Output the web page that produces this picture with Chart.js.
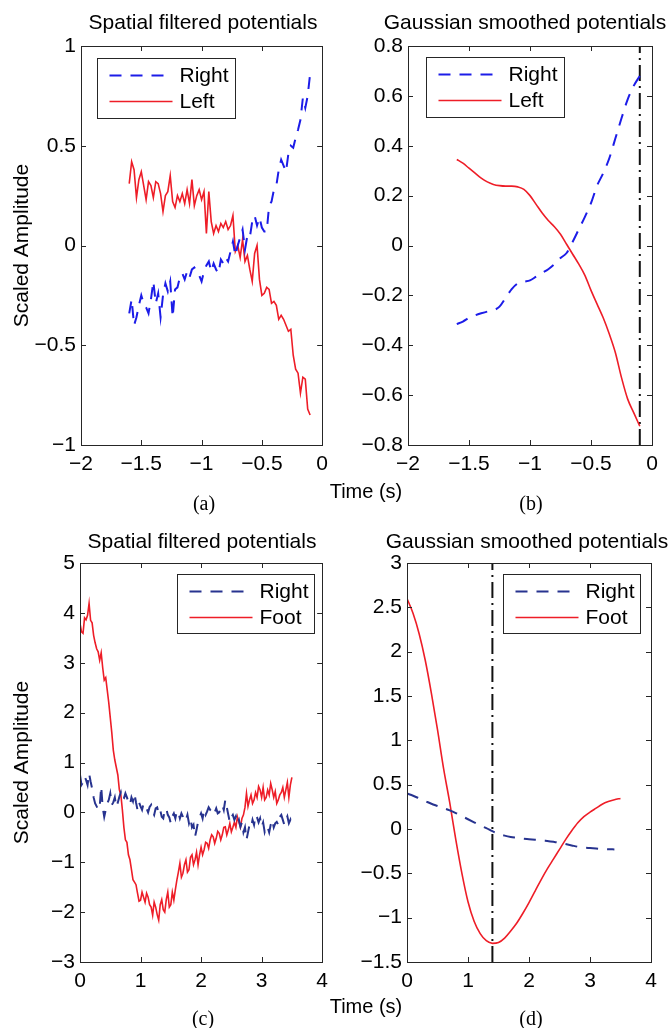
<!DOCTYPE html>
<html><head><meta charset="utf-8">
<script src="https://cdn.jsdelivr.net/npm/chart.js@4.4.1/dist/chart.umd.min.js"></script>
<style>
html,body{margin:0;padding:0;background:#fff;}
#page{position:relative;width:669px;height:1028px;overflow:hidden;font-family:"Liberation Sans",Arial,sans-serif;color:#000;}
canvas{position:absolute;}
.t{position:absolute;white-space:nowrap;text-align:center;line-height:24px;}
.title{font-size:21px;}
.xl{font-size:20px;}
.cap{font-family:"Liberation Serif","Times New Roman",serif;font-size:20px;}
</style></head><body>
<div id="page">
<canvas id="cA" width="335" height="480" style="left:0;top:0"></canvas>
<canvas id="cB" width="334" height="480" style="left:335px;top:0"></canvas>
<canvas id="cC" width="335" height="480" style="left:0;top:517px"></canvas>
<canvas id="cD" width="334" height="480" style="left:335px;top:517px"></canvas>
<div class="t title" style="left:53px;top:10px;width:300px">Spatial filtered potentials</div>
<div class="t title" style="left:375px;top:10px;width:300px">Gaussian smoothed potentials</div>
<div class="t title" style="left:52px;top:529px;width:300px">Spatial filtered potentials</div>
<div class="t title" style="left:377px;top:529px;width:300px">Gaussian smoothed potentials</div>
<div class="t xl" style="left:266px;top:479px;width:200px">Time (s)</div>
<div class="t xl" style="left:266px;top:994px;width:200px">Time (s)</div>
<div class="t cap" style="left:154px;top:491px;width:100px">(a)</div>
<div class="t cap" style="left:481px;top:491px;width:100px">(b)</div>
<div class="t cap" style="left:153px;top:1006px;width:100px">(c)</div>
<div class="t cap" style="left:481px;top:1006px;width:100px">(d)</div>
</div>
<script>
// ---------- data ----------
const timeA = [-1.6,-1.58,-1.56,-1.54,-1.52,-1.5,-1.48,-1.46,-1.44,-1.42,-1.4,-1.38,-1.36,-1.34,-1.32,-1.3,-1.28,-1.26,-1.24,-1.22,-1.2,-1.18,-1.16,-1.14,-1.12,-1.1,-1.08,-1.06,-1.04,-1.02,-1,-0.98,-0.96,-0.94,-0.92,-0.9,-0.88,-0.86,-0.84,-0.82,-0.8,-0.78,-0.76,-0.74,-0.72,-0.7,-0.68,-0.66,-0.64,-0.62,-0.6,-0.58,-0.56,-0.54,-0.52,-0.5,-0.48,-0.46,-0.44,-0.42,-0.4,-0.38,-0.36,-0.34,-0.32,-0.3,-0.28,-0.26,-0.24,-0.22,-0.2,-0.18,-0.16,-0.14,-0.12,-0.1];
const rightA = [-0.34,-0.27,-0.40,-0.36,-0.30,-0.25,-0.29,-0.31,-0.34,-0.27,
  -0.18,-0.29,-0.24,-0.36,-0.25,-0.19,-0.23,-0.18,-0.36,-0.22,
  -0.21,-0.16,-0.14,-0.17,-0.13,-0.16,-0.12,-0.11,-0.13,-0.15,
  -0.18,-0.13,-0.10,-0.08,-0.13,-0.09,-0.12,-0.14,-0.07,-0.09,
  -0.06,-0.08,-0.03,0.02,-0.05,0.00,0.04,0.08,-0.02,0.05,
  0.04,0.12,0.15,0.10,0.14,0.09,0.07,0.07,0.20,0.22,
  0.28,0.30,0.38,0.43,0.40,0.37,0.46,0.50,0.49,0.54,
  0.58,0.63,0.74,0.69,0.75,0.86];
const leftA = [0.31,0.42,0.38,0.24,0.33,0.37,0.30,0.23,0.32,0.30,
  0.24,0.32,0.31,0.26,0.17,0.25,0.27,0.35,0.22,0.19,
  0.25,0.22,0.26,0.21,0.28,0.21,0.33,0.20,0.25,0.28,
  0.23,0.27,0.06,0.27,0.12,0.06,0.10,0.07,0.11,0.09,
  0.12,0.08,0.10,0.15,-0.03,0.00,-0.06,0.03,-0.08,-0.05,
  -0.12,-0.18,-0.04,0.00,-0.17,-0.25,-0.24,-0.21,-0.22,-0.29,
  -0.28,-0.30,-0.37,-0.35,-0.37,-0.40,-0.43,-0.42,-0.55,-0.62,
  -0.64,-0.74,-0.66,-0.67,-0.82,-0.85];

const timeB = [-1.6,-1.55,-1.5,-1.45,-1.4,-1.35,-1.3,-1.25,-1.2,-1.15,-1.1,-1.05,-1,-0.95,-0.9,-0.85,-0.8,-0.75,-0.7,-0.65,-0.6,-0.55,-0.5,-0.45,-0.4,-0.35,-0.3,-0.25,-0.2,-0.15,-0.1];
const rightB = [-0.315,-0.305,-0.29,-0.28,-0.272,-0.265,-0.26,-0.245,-0.21,-0.175,
  -0.152,-0.145,-0.14,-0.125,-0.11,-0.095,-0.075,-0.05,-0.03,0.015,
  0.065,0.115,0.17,0.24,0.29,0.35,0.43,0.51,0.585,0.64,0.68];
const leftB = [0.345,0.33,0.31,0.29,0.27,0.255,0.245,0.24,0.238,0.238,
  0.235,0.225,0.20,0.165,0.13,0.10,0.075,0.045,0.005,-0.035,
  -0.075,-0.12,-0.18,-0.235,-0.29,-0.355,-0.43,-0.53,-0.615,-0.67,-0.725];
const markerB = -0.1;

const timeC = [0,0.025,0.05,0.075,0.1,0.125,0.15,0.175,0.2,0.225,0.25,0.275,0.3,0.325,0.35,0.375,0.4,0.425,0.45,0.475,
  0.5,0.525,0.55,0.575,0.6,0.625,0.65,0.675,0.7,0.725,0.75,0.775,0.8,0.825,0.85,0.875,0.9,0.925,0.95,0.975,
  1,1.025,1.05,1.075,1.1,1.125,1.15,1.175,1.2,1.225,1.25,1.275,1.3,1.325,1.35,1.375,1.4,1.425,1.45,1.475,
  1.5,1.525,1.55,1.575,1.6,1.625,1.65,1.675,1.7,1.725,1.75,1.775,1.8,1.825,1.85,1.875,1.9,1.925,1.95,1.975,
  2,2.025,2.05,2.075,2.1,2.125,2.15,2.175,2.2,2.225,2.25,2.275,2.3,2.325,2.35,2.375,2.4,2.425,2.45,2.475,
  2.5,2.525,2.55,2.575,2.6,2.625,2.65,2.675,2.7,2.725,2.75,2.775,2.8,2.825,2.85,2.875,2.9,2.925,2.95,2.975,
  3,3.025,3.05,3.075,3.1,3.125,3.15,3.175,3.2,3.225,3.25,3.275,3.3,3.325,3.35,3.375,3.4,3.425,3.45,3.475,3.5];
const rightC = [0.75,0.55,0.60,0.72,0.65,0.55,0.78,0.62,0.48,0.30,0.18,0.12,0.05,0.10,0.52,0.10,-0.09,0.05,0.18,0.25,
  0.38,0.15,0.20,0.30,0.11,0.20,0.31,0.40,0.25,0.28,0.38,0.30,0.21,0.15,0.30,0.22,0.38,0.20,0.05,0.20,
  0.12,0.05,0.18,0.12,0.08,0.00,0.11,0.15,0.02,-0.05,0.08,0.10,-0.02,0.05,-0.09,-0.12,0.05,0.08,-0.05,-0.10,
  -0.22,-0.08,-0.02,-0.12,0.03,0.00,-0.12,-0.02,-0.09,-0.18,-0.15,-0.05,-0.22,-0.12,-0.30,-0.25,-0.49,-0.35,-0.19,-0.10,
  -0.02,-0.12,0.05,-0.05,0.02,0.10,0.05,0.02,-0.05,0.00,0.08,-0.02,0.00,0.10,0.15,0.05,0.25,0.10,-0.05,-0.20,
  -0.10,-0.05,-0.15,-0.08,-0.22,-0.15,-0.29,-0.20,-0.40,-0.30,-0.55,-0.40,-0.25,-0.30,-0.15,-0.25,-0.05,-0.10,-0.20,-0.12,
  -0.29,-0.20,-0.39,-0.28,-0.30,-0.40,-0.25,-0.15,-0.30,-0.22,-0.19,-0.25,-0.09,-0.05,-0.15,-0.25,-0.15,-0.08,-0.22,-0.15,-0.29];
const footC = [3.79,3.62,3.59,3.90,3.86,3.95,4.19,3.85,3.80,3.55,3.40,3.28,3.22,3.05,3.20,2.90,2.65,2.70,2.45,2.20,
  1.90,1.60,1.25,1.05,0.90,0.75,0.45,0.35,0.05,-0.30,-0.55,-0.60,-0.85,-0.95,-1.15,-1.35,-1.40,-1.45,-1.62,-1.78,
  -1.76,-1.60,-1.70,-1.80,-1.62,-1.70,-1.85,-1.90,-2.06,-1.80,-1.90,-2.05,-2.16,-1.85,-1.75,-1.95,-2.00,-1.75,-1.60,-1.90,
  -1.85,-1.60,-1.76,-1.55,-1.36,-1.20,-1.02,-1.30,-1.22,-1.05,-0.95,-1.20,-1.15,-0.90,-0.85,-1.05,-0.95,-0.80,-1.05,-0.85,
  -0.70,-0.85,-0.75,-0.60,-0.62,-0.72,-0.55,-0.45,-0.49,-0.62,-0.52,-0.38,-0.42,-0.55,-0.45,-0.30,-0.29,-0.45,-0.35,-0.22,
  -0.39,-0.30,-0.20,-0.30,-0.09,-0.20,-0.30,-0.12,-0.05,0.10,0.38,0.12,0.25,0.35,0.18,0.25,0.40,0.30,0.52,0.45,
  0.30,0.50,0.25,0.30,0.45,0.35,0.58,0.45,0.30,0.42,0.18,0.25,0.35,0.40,0.50,0.30,0.45,0.60,0.30,0.55,0.70];

const timeD = [0,0.1,0.2,0.3,0.4,0.5,0.6,0.7,0.8,0.9,1,1.1,1.2,1.3,1.4,1.5,1.6,1.7,1.8,1.9,2,2.1,2.2,2.3,2.4,2.5,2.6,2.7,2.8,2.9,3,3.1,3.2,3.3,3.4,3.5];
const rightD = [0.40,0.375,0.345,0.315,0.285,0.26,0.235,0.21,0.18,0.145,
  0.11,0.075,0.04,0.01,-0.025,-0.055,-0.075,-0.09,-0.10,-0.11,
  -0.115,-0.12,-0.125,-0.135,-0.145,-0.155,-0.17,-0.185,-0.20,-0.21,
  -0.215,-0.22,-0.225,-0.228,-0.23];
const footD = [2.60,2.43,2.20,1.90,1.53,1.12,0.68,0.30,-0.12,-0.50,
  -0.82,-1.04,-1.18,-1.26,-1.29,-1.28,-1.23,-1.15,-1.06,-0.95,
  -0.83,-0.70,-0.57,-0.45,-0.34,-0.23,-0.12,-0.02,0.07,0.14,
  0.19,0.235,0.28,0.31,0.33,0.345];
const markerD = 1.4;

const xTicksAB = [-2,-1.5,-1,-0.5,0];
const yTicksA = [-1,-0.5,0,0.5,1];
const yTicksB = [-0.8,-0.6,-0.4,-0.2,0,0.2,0.4,0.6,0.8];
const xTicksCD = [0,1,2,3,4];
const yTicksC = [-3,-2,-1,0,1,2,3,4,5];
const yTicksD = [-1.5,-1,-0.5,0,0.5,1,1.5,2,2.5,3];
const yTitle = 'Scaled Amplitude';

// ---------- styling ----------
const RED = '#ee1d27', BLUE = '#1c1ce8', NAVY = '#27338f';
const DASH = [12, 9];
Chart.defaults.font.family = '"Liberation Sans", Arial, sans-serif';
Chart.defaults.color = '#000';

function fmt(v){ return String(v).replace('-', '\u2212'); }
function pts(xs, ys){ return ys.map((y, i) => ({x: xs[i], y: y})); }
function lineDs(label, xs, ys, color, dash, width, smooth){
  return {label: label, data: pts(xs, ys), borderColor: color, borderWidth: width,
    borderDash: dash, pointRadius: 0, tension: 0, fill: false,
    cubicInterpolationMode: smooth ? 'monotone' : 'default'};
}
function markerDs(xv, yt){
  return {label: '', isMarker: true, data: [{x: xv, y: yt[0]}, {x: xv, y: yt[yt.length-1]}],
    borderColor: '#111', borderWidth: 2, borderDash: [16,5,2,5], pointRadius: 0};
}
function scales(xT, yT, yW, title){
  return {
    x: {type: 'linear', min: xT[0], max: xT[xT.length-1],
      grid: {display: false, drawTicks: false}, border: {display: false},
      afterBuildTicks: s => { s.ticks = xT.map(v => ({value: v})); },
      afterFit: s => { s.height = 35; },
      ticks: {autoSkip: false, maxRotation: 0, padding: 7, color: '#000', font: {size: 21}, callback: fmt}},
    y: {type: 'linear', min: yT[0], max: yT[yT.length-1],
      grid: {display: false, drawTicks: false}, border: {display: false},
      afterBuildTicks: s => { s.ticks = yT.map(v => ({value: v})); },
      afterFit: s => { s.width = yW; },
      ticks: {autoSkip: false, padding: 5, color: '#000', font: {size: 21}, callback: fmt},
      title: {display: !!title, text: title || '', color: '#000', font: {size: 21}, padding: {top: 9.4, bottom: 0}}}
  };
}

const boxTicks = {
  id: 'boxTicks',
  afterDraw(chart){
    const {ctx, chartArea: a, scales: sc} = chart;
    const L = 5;
    ctx.save();
    ctx.strokeStyle = '#262626'; ctx.lineWidth = 1; ctx.setLineDash([]);
    ctx.beginPath();
    sc.x.ticks.forEach(t => {
      const p = Math.round(sc.x.getPixelForValue(t.value)) + 0.5;
      if (p <= a.left + 1 || p >= a.right - 1) return;
      ctx.moveTo(p, a.bottom); ctx.lineTo(p, a.bottom - L);
      ctx.moveTo(p, a.top); ctx.lineTo(p, a.top + L);
    });
    sc.y.ticks.forEach(t => {
      const p = Math.round(sc.y.getPixelForValue(t.value)) + 0.5;
      if (p <= a.top + 1 || p >= a.bottom - 1) return;
      ctx.moveTo(a.left, p); ctx.lineTo(a.left + L, p);
      ctx.moveTo(a.right, p); ctx.lineTo(a.right - L, p);
    });
    ctx.stroke();
    ctx.strokeRect(Math.round(a.left) + 0.5, Math.round(a.top) + 0.5, Math.round(a.right - a.left), Math.round(a.bottom - a.top));
    ctx.restore();
  }
};
const boxLegend = {
  id: 'boxLegend',
  afterDraw(chart, args, o){
    if (!o || !o.show) return;
    const {ctx, chartArea: a} = chart;
    const bx = Math.round(a.left + o.x) + 0.5, by = Math.round(a.top + o.y) + 0.5;
    ctx.save();
    ctx.fillStyle = '#fff'; ctx.fillRect(bx, by, o.w, o.h);
    ctx.strokeStyle = '#262626'; ctx.lineWidth = 1; ctx.setLineDash([]);
    ctx.strokeRect(bx, by, o.w, o.h);
    chart.data.datasets.filter(d => !d.isMarker).forEach((d, i) => {
      const yy = by + 17 + i * 26;
      ctx.strokeStyle = d.borderColor; ctx.lineWidth = d.borderWidth;
      ctx.setLineDash(d.borderDash || []);
      ctx.beginPath(); ctx.moveTo(bx + 12, yy); ctx.lineTo(bx + 75, yy); ctx.stroke();
      ctx.setLineDash([]);
      ctx.fillStyle = '#000'; ctx.font = '21px "Liberation Sans", Arial, sans-serif';
      ctx.textBaseline = 'middle'; ctx.textAlign = 'left';
      ctx.fillText(d.label, bx + 82, yy + 1);
    });
    ctx.restore();
  }
};

function make(id, datasets, sc, padRight, leg){
  return new Chart(document.getElementById(id), {
    type: 'line',
    data: {datasets: datasets},
    plugins: [boxTicks, boxLegend],
    options: {
      responsive: false, animation: false, devicePixelRatio: 1,
      layout: {padding: {top: 46, right: padRight, left: 0, bottom: 0}},
      scales: sc,
      plugins: {legend: {display: false}, tooltip: {enabled: false}, boxLegend: leg}
    }
  });
}

make('cA', [
  lineDs('Right', timeA, rightA, BLUE, DASH, 2, false),
  lineDs('Left', timeA, leftA, RED, [], 1.6, false)
], scales(xTicksAB, yTicksA, 81, yTitle), 10, {show: true, x: 16, y: 12, w: 138, h: 60});

make('cB', [
  lineDs('Right', timeB, rightB, BLUE, DASH, 2, true),
  lineDs('Left', timeB, leftB, RED, [], 1.6, true),
  markerDs(markerB, yTicksB)
], scales(xTicksAB, yTicksB, 73, null), 17, {show: true, x: 18, y: 11, w: 138, h: 60});

make('cC', [
  lineDs('Right', timeC, rightC, NAVY, DASH, 2, false),
  lineDs('Foot', timeC, footC, RED, [], 1.6, false)
], scales(xTicksCD, yTicksC, 80, yTitle), 12, {show: true, x: 97, y: 11, w: 137, h: 59});

make('cD', [
  lineDs('Right', timeD.slice(0, rightD.length), rightD, NAVY, DASH, 2, true),
  lineDs('Foot', timeD, footD, RED, [], 1.6, true),
  markerDs(markerD, yTicksD)
], scales(xTicksCD, yTicksD, 72, null), 18, {show: true, x: 96, y: 11, w: 137, h: 59});
</script>
</body></html>
